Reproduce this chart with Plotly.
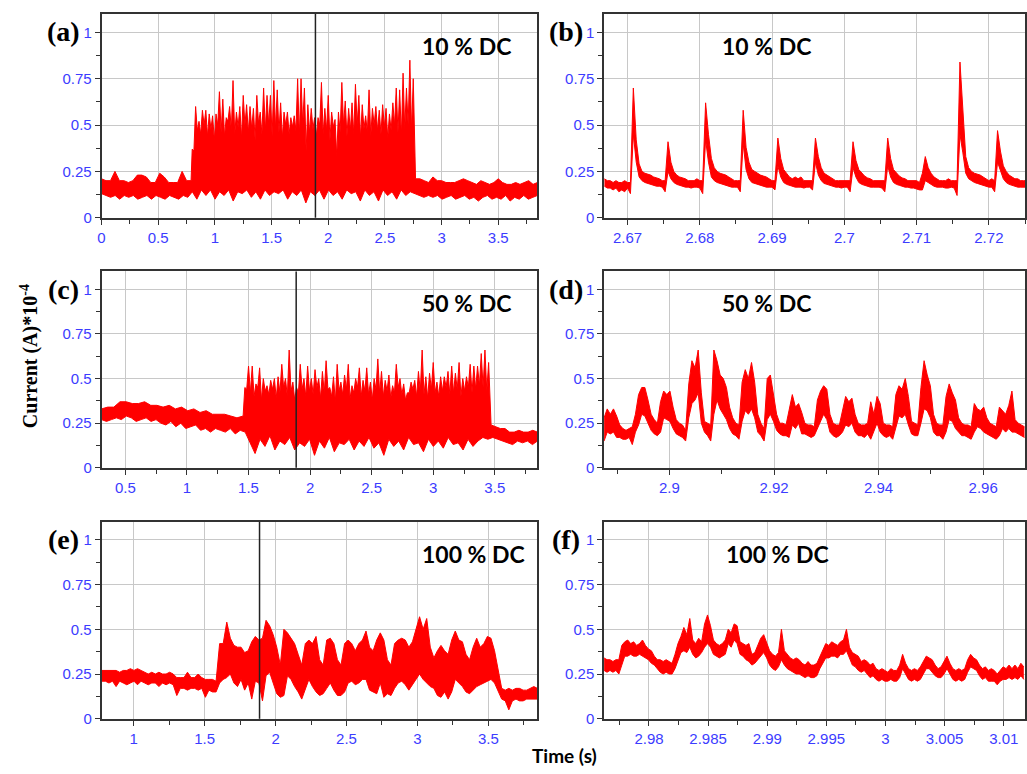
import numpy as np
import plotly.graph_objects as go

# ---------------- data ----------------
cursor_t = 1.887

# (a) 10 % DC, whole record: upper envelope in three stretches, lower envelope over the record
a_pre_span = [0.0, 0.79]
a_pre_hi = [0.21, 0.2, 0.2, 0.25, 0.2, 0.2, 0.19, 0.2, 0.23, 0.23, 0.22, 0.19, 0.19, 0.24, 0.22,
            0.19, 0.19, 0.19, 0.25, 0.2, 0.2]
a_act_span = [0.80, 2.75]
a_act_peaks = [0.37, 0.6, 0.52, 0.58, 0.58, 0.56, 0.55, 0.56, 0.68, 0.64,
               0.54, 0.6, 0.74, 0.57, 0.6, 0.66, 0.61, 0.6, 0.59, 0.66,
               0.57, 0.7, 0.66, 0.66, 0.74, 0.69, 0.62, 0.57, 0.57, 0.54,
               0.55, 0.75, 0.75, 0.7, 0.61, 0.59, 0.54, 0.54, 0.73, 0.59,
               0.66, 0.57, 0.53, 0.57, 0.73, 0.63, 0.59, 0.62, 0.72, 0.66,
               0.61, 0.55, 0.69, 0.59, 0.6, 0.58, 0.61, 0.59, 0.56, 0.62,
               0.7, 0.69, 0.78, 0.7, 0.85, 0.75]
a_act_valleys = [0.36, 0.47, 0.45, 0.5, 0.44, 0.48, 0.42, 0.5, 0.46, 0.44,
                 0.52, 0.47, 0.45, 0.49, 0.43, 0.5, 0.46, 0.48, 0.42, 0.51,
                 0.45, 0.47, 0.5, 0.44, 0.48, 0.46, 0.43, 0.5, 0.45, 0.49,
                 0.47, 0.44, 0.5, 0.36, 0.46, 0.48, 0.44, 0.5, 0.45, 0.47,
                 0.42, 0.49, 0.33, 0.46, 0.5, 0.44, 0.47, 0.45, 0.5, 0.43,
                 0.48, 0.46, 0.44, 0.5, 0.47, 0.45, 0.49, 0.43, 0.47, 0.5,
                 0.46, 0.44, 0.48, 0.5, 0.47]
a_post_span = [2.77, 3.845]
a_post_hi = [0.21, 0.21, 0.2, 0.19, 0.22, 0.2, 0.2, 0.19, 0.19, 0.19,
             0.2, 0.21, 0.2, 0.19, 0.18, 0.2, 0.19, 0.18, 0.19, 0.21,
             0.19, 0.18, 0.18, 0.19, 0.18, 0.19, 0.2, 0.18, 0.19]
a_lo_span = [0.0, 3.845]
a_lo = [0.13, 0.12, 0.11, 0.12, 0.1, 0.12, 0.11, 0.12, 0.1, 0.11, 0.12, 0.1, 0.12, 0.11, 0.1,
        0.12, 0.11, 0.1, 0.12, 0.11,
        0.14, 0.1, 0.15, 0.12, 0.15, 0.1, 0.14, 0.12, 0.15, 0.09, 0.14, 0.13, 0.15, 0.11, 0.14,
        0.1, 0.15, 0.12, 0.14, 0.13, 0.15, 0.1, 0.14, 0.12, 0.15, 0.08, 0.14, 0.12, 0.15, 0.1,
        0.15, 0.12, 0.14, 0.1, 0.15, 0.13, 0.14, 0.09, 0.15, 0.12, 0.14, 0.09, 0.15, 0.12, 0.14,
        0.1, 0.15, 0.12, 0.14,
        0.13, 0.12, 0.11, 0.12, 0.11, 0.12, 0.1, 0.11, 0.12, 0.1, 0.11, 0.12, 0.1, 0.11, 0.09,
        0.11, 0.12, 0.1, 0.11, 0.1, 0.12, 0.09, 0.11, 0.1, 0.12, 0.1, 0.11, 0.12]

# (b) 10 % DC, zoom
b_span = [2.6668, 2.7252]
b_hi = [0.21, 0.2, 0.2, 0.19, 0.2, 0.19, 0.19, 0.2, 0.19, 0.19,
        0.70, 0.42, 0.29, 0.25, 0.24, 0.235, 0.23, 0.22, 0.215, 0.21,
        0.2, 0.2, 0.41, 0.3, 0.25, 0.23, 0.22, 0.215, 0.21, 0.2,
        0.2, 0.2, 0.21, 0.2, 0.2, 0.62, 0.45, 0.32, 0.27, 0.25,
        0.24, 0.235, 0.23, 0.22, 0.21, 0.2, 0.2, 0.2, 0.58, 0.38,
        0.3, 0.26, 0.25, 0.24, 0.23, 0.225, 0.22, 0.21, 0.2, 0.2,
        0.43, 0.32, 0.26, 0.24, 0.22, 0.21, 0.22, 0.21, 0.22, 0.2,
        0.2, 0.2, 0.2, 0.43, 0.33, 0.27, 0.24, 0.23, 0.22, 0.21,
        0.2, 0.2, 0.2, 0.2, 0.2, 0.2, 0.41, 0.31, 0.26, 0.24,
        0.225, 0.215, 0.21, 0.2, 0.2, 0.2, 0.2, 0.2, 0.43, 0.32,
        0.26, 0.24, 0.225, 0.215, 0.21, 0.2, 0.2, 0.2, 0.2, 0.19,
        0.24, 0.33, 0.27, 0.24, 0.22, 0.21, 0.2, 0.2, 0.2, 0.21,
        0.2, 0.2, 0.2, 0.84, 0.55, 0.33, 0.27, 0.25, 0.24, 0.235,
        0.23, 0.22, 0.21, 0.2, 0.21, 0.2, 0.47, 0.36, 0.28, 0.25,
        0.23, 0.22, 0.21, 0.21, 0.2, 0.2, 0.2]
b_lo = [0.17, 0.16, 0.16, 0.15, 0.16, 0.14, 0.15, 0.14, 0.16, 0.13,
        0.45, 0.3, 0.22, 0.2, 0.19, 0.185, 0.18, 0.175, 0.17, 0.17,
        0.165, 0.14, 0.25, 0.21, 0.19, 0.18, 0.175, 0.17, 0.165, 0.165,
        0.16, 0.165, 0.165, 0.16, 0.13, 0.42, 0.3, 0.22, 0.2, 0.19,
        0.185, 0.18, 0.175, 0.17, 0.165, 0.165, 0.165, 0.14, 0.4, 0.26,
        0.21, 0.19, 0.185, 0.18, 0.175, 0.17, 0.165, 0.165, 0.165, 0.15,
        0.28, 0.22, 0.19, 0.18, 0.175, 0.17, 0.165, 0.165, 0.165, 0.16,
        0.165, 0.165, 0.15, 0.3, 0.23, 0.2, 0.185, 0.18, 0.175, 0.17,
        0.165, 0.165, 0.16, 0.165, 0.165, 0.14, 0.27, 0.22, 0.19, 0.18,
        0.175, 0.17, 0.165, 0.165, 0.165, 0.165, 0.16, 0.14, 0.28, 0.22,
        0.19, 0.18, 0.175, 0.17, 0.165, 0.165, 0.16, 0.16, 0.155, 0.15,
        0.15, 0.2, 0.19, 0.18, 0.17, 0.165, 0.165, 0.165, 0.16, 0.16,
        0.165, 0.16, 0.12, 0.45, 0.35, 0.24, 0.21, 0.2, 0.19, 0.185,
        0.18, 0.175, 0.17, 0.165, 0.165, 0.14, 0.3, 0.25, 0.21, 0.19,
        0.18, 0.175, 0.17, 0.165, 0.165, 0.165, 0.165]

# (c) 50 % DC, whole record
c_pre_span = [0.306, 1.456]
c_pre_hi = [0.33, 0.34, 0.34, 0.37, 0.37, 0.36, 0.36, 0.37, 0.35, 0.35, 0.34, 0.35,
            0.33, 0.34, 0.32, 0.33, 0.31, 0.32, 0.3, 0.3, 0.3, 0.29, 0.28, 0.29]
c_act_span = [1.47, 3.45]
c_act_peaks = [0.45, 0.57, 0.57, 0.47, 0.56, 0.5, 0.46, 0.49, 0.5, 0.51,
               0.58, 0.5, 0.66, 0.48, 0.45, 0.58, 0.5, 0.57, 0.5, 0.55,
               0.5, 0.54, 0.6, 0.45, 0.51, 0.58, 0.48, 0.52, 0.58, 0.46,
               0.5, 0.56, 0.49, 0.56, 0.48, 0.5, 0.61, 0.54, 0.49, 0.52,
               0.46, 0.58, 0.5, 0.47, 0.42, 0.48, 0.49, 0.54, 0.66, 0.51,
               0.53, 0.59, 0.48, 0.51, 0.51, 0.54, 0.57, 0.53, 0.59, 0.5,
               0.51, 0.58, 0.57, 0.57, 0.64, 0.66, 0.59]
c_act_valleys = [0.44, 0.42, 0.4, 0.45, 0.38, 0.43, 0.41, 0.44, 0.39, 0.42,
                 0.45, 0.4, 0.43, 0.38, 0.42, 0.44, 0.4, 0.43, 0.41, 0.45,
                 0.39, 0.42, 0.44, 0.4, 0.37, 0.43, 0.41, 0.44, 0.39, 0.42,
                 0.45, 0.4, 0.43, 0.41, 0.38, 0.44, 0.42, 0.4, 0.43, 0.39,
                 0.42, 0.45, 0.41, 0.38, 0.42, 0.44, 0.4, 0.43, 0.41, 0.39,
                 0.44, 0.42, 0.4, 0.43, 0.45, 0.41, 0.42, 0.44, 0.4, 0.43,
                 0.45, 0.42, 0.44, 0.46, 0.45, 0.43]
c_post_span = [3.47, 3.846]
c_post_hi = [0.24, 0.23, 0.22, 0.22, 0.2, 0.2, 0.21, 0.2, 0.2, 0.21, 0.2]
c_lo_span = [0.306, 3.846]
c_lo = [0.27, 0.26, 0.27, 0.28, 0.27, 0.29, 0.28, 0.26, 0.27, 0.28, 0.26, 0.27, 0.25, 0.24, 0.26,
        0.23, 0.25, 0.22, 0.23, 0.24, 0.21, 0.22, 0.2, 0.22, 0.21, 0.2, 0.22, 0.19, 0.21, 0.2,
        0.14, 0.08, 0.16, 0.12, 0.18, 0.1, 0.15, 0.13, 0.17, 0.1, 0.14, 0.12, 0.16, 0.07, 0.15,
        0.11, 0.17, 0.09, 0.14, 0.13, 0.16, 0.1, 0.15, 0.12, 0.17, 0.11, 0.14, 0.07, 0.16, 0.12,
        0.15, 0.1, 0.17, 0.13, 0.14, 0.09, 0.16, 0.12, 0.15, 0.11, 0.17, 0.13, 0.14, 0.1, 0.16,
        0.12, 0.15, 0.17, 0.16,
        0.17, 0.16, 0.15, 0.14, 0.13, 0.15, 0.14, 0.15, 0.13, 0.15]

# (d) 50 % DC, zoom
d_span = [2.8875, 2.9679]
d_hi = [0.28, 0.33, 0.3, 0.33, 0.29, 0.24, 0.22, 0.21, 0.22, 0.23,
        0.3, 0.41, 0.45, 0.45, 0.38, 0.3, 0.27, 0.25,
        0.37, 0.43, 0.41, 0.43, 0.34, 0.27, 0.25, 0.24, 0.21,
        0.47, 0.6, 0.56, 0.66, 0.42, 0.26, 0.25, 0.24,
        0.66, 0.6, 0.52, 0.5, 0.45, 0.34, 0.28, 0.25, 0.24,
        0.48, 0.55, 0.5, 0.59, 0.48, 0.3, 0.25, 0.22,
        0.5, 0.52, 0.42, 0.3, 0.25, 0.25, 0.24,
        0.33, 0.41, 0.34, 0.36, 0.31, 0.25, 0.24, 0.24, 0.23,
        0.38, 0.43, 0.46, 0.44, 0.3, 0.25, 0.24, 0.24,
        0.32, 0.4, 0.37, 0.39, 0.3, 0.25, 0.24, 0.24, 0.25,
        0.37, 0.3, 0.4, 0.36, 0.25, 0.24, 0.24, 0.23,
        0.41, 0.46, 0.44, 0.5, 0.4, 0.26, 0.25, 0.24,
        0.45, 0.6, 0.52, 0.46, 0.3, 0.25, 0.24, 0.24,
        0.4, 0.47, 0.42, 0.38, 0.28, 0.25, 0.24, 0.24, 0.23,
        0.36, 0.33, 0.32, 0.34, 0.28, 0.25, 0.24, 0.23,
        0.34, 0.32, 0.3, 0.35, 0.43, 0.27, 0.25, 0.24, 0.23]
d_lo = [0.15, 0.2, 0.19, 0.2, 0.17, 0.17, 0.16, 0.16, 0.17, 0.13,
        0.2, 0.24, 0.3, 0.29, 0.25, 0.21, 0.19, 0.18,
        0.2, 0.28, 0.27, 0.26, 0.22, 0.19, 0.18, 0.17, 0.15,
        0.28, 0.36, 0.38, 0.42, 0.25, 0.2, 0.18, 0.15,
        0.3, 0.38, 0.33, 0.3, 0.27, 0.22, 0.19, 0.18, 0.16,
        0.26, 0.32, 0.3, 0.33, 0.28, 0.2, 0.18, 0.15,
        0.27, 0.3, 0.26, 0.21, 0.19, 0.18, 0.18,
        0.17, 0.24, 0.22, 0.25, 0.19, 0.19, 0.18, 0.17, 0.18,
        0.22, 0.27, 0.3, 0.27, 0.2, 0.18, 0.17, 0.18,
        0.2, 0.24, 0.23, 0.25, 0.2, 0.18, 0.18, 0.17, 0.19,
        0.16, 0.2, 0.25, 0.2, 0.18, 0.17, 0.18, 0.16,
        0.22, 0.29, 0.28, 0.3, 0.24, 0.19, 0.18, 0.18,
        0.25, 0.33, 0.32, 0.28, 0.2, 0.18, 0.18, 0.16,
        0.2, 0.27, 0.26, 0.22, 0.2, 0.18, 0.18, 0.17, 0.16,
        0.2, 0.23, 0.22, 0.2, 0.19, 0.18, 0.17, 0.16,
        0.18, 0.22, 0.2, 0.22, 0.2, 0.2, 0.19, 0.18, 0.17]

# (e) 100 % DC, whole record
e_span = [0.775, 3.846]
e_hi = [0.27, 0.27, 0.27, 0.27, 0.27, 0.26, 0.27, 0.27, 0.28, 0.27,
        0.28, 0.27, 0.26, 0.25, 0.26, 0.25, 0.26, 0.25, 0.25, 0.26,
        0.25, 0.23, 0.23, 0.23, 0.26, 0.23, 0.23, 0.25, 0.23, 0.22,
        0.22, 0.22, 0.21,
        0.42, 0.42, 0.54, 0.45, 0.41, 0.4, 0.4, 0.37, 0.38, 0.43,
        0.46, 0.44, 0.45, 0.55, 0.52, 0.47, 0.4, 0.3, 0.5, 0.48,
        0.45, 0.42, 0.36, 0.3, 0.42, 0.44, 0.42, 0.46, 0.33, 0.3,
        0.44, 0.45, 0.42, 0.33, 0.3, 0.42, 0.44, 0.42, 0.38, 0.42,
        0.44, 0.49, 0.4, 0.38, 0.44, 0.48, 0.44, 0.33, 0.3, 0.42,
        0.44, 0.45, 0.44, 0.4, 0.43, 0.5, 0.57, 0.5, 0.56, 0.4,
        0.34, 0.38, 0.41, 0.38, 0.36, 0.44, 0.49, 0.44, 0.43, 0.36,
        0.33, 0.4, 0.45, 0.4, 0.42, 0.46, 0.45, 0.38, 0.28,
        0.17, 0.16, 0.17, 0.16, 0.17, 0.17, 0.16, 0.16, 0.17, 0.18, 0.17]
e_lo = [0.21, 0.21, 0.2, 0.21, 0.18, 0.21, 0.2, 0.19, 0.2, 0.21,
        0.19, 0.21, 0.2, 0.19, 0.2, 0.2, 0.18, 0.2, 0.19, 0.2,
        0.19, 0.13, 0.17, 0.17, 0.16, 0.17, 0.17, 0.16, 0.17, 0.12,
        0.16, 0.15, 0.15,
        0.2, 0.22, 0.23, 0.25, 0.2, 0.18, 0.22, 0.16, 0.2, 0.11,
        0.21, 0.2, 0.1, 0.24, 0.26, 0.2, 0.14, 0.12, 0.13, 0.24,
        0.22, 0.18, 0.15, 0.11, 0.17, 0.22, 0.18, 0.15, 0.13, 0.14,
        0.17, 0.2, 0.16, 0.13, 0.13, 0.15, 0.2, 0.21, 0.19, 0.2,
        0.22, 0.22, 0.16, 0.15, 0.14, 0.2, 0.12, 0.14, 0.13, 0.17,
        0.2, 0.21, 0.19, 0.16, 0.19, 0.22, 0.25, 0.22, 0.2, 0.18,
        0.17, 0.13, 0.12, 0.15, 0.11, 0.15, 0.22, 0.2, 0.18, 0.15,
        0.14, 0.16, 0.18, 0.19, 0.2, 0.21, 0.22, 0.2, 0.15,
        0.11, 0.1, 0.05, 0.1, 0.11, 0.1, 0.1, 0.11, 0.11, 0.11, 0.11]

# (f) 100 % DC, zoom
f_span = [2.9762, 3.0117]
f_hi = [0.34, 0.33, 0.33, 0.32, 0.33, 0.33, 0.41, 0.43,
        0.44, 0.42, 0.43, 0.41, 0.42, 0.44, 0.41, 0.39, 0.38, 0.35, 0.33,
        0.33, 0.32, 0.33, 0.32, 0.31, 0.36, 0.42, 0.46, 0.51, 0.47, 0.56,
        0.44, 0.42, 0.45, 0.43, 0.53, 0.58, 0.52, 0.44, 0.42, 0.41, 0.42, 0.44,
        0.5, 0.48, 0.53, 0.52, 0.43, 0.42, 0.41, 0.42, 0.36, 0.37, 0.41,
        0.45, 0.47, 0.42, 0.38, 0.36, 0.35, 0.37, 0.5,
        0.38, 0.36, 0.34, 0.33, 0.34, 0.33, 0.31, 0.3, 0.32, 0.3, 0.3, 0.31,
        0.35, 0.38, 0.42, 0.41, 0.43, 0.42, 0.41, 0.43, 0.44, 0.5,
        0.4, 0.37, 0.36, 0.35, 0.32, 0.33, 0.32, 0.3, 0.31, 0.28,
        0.27, 0.28, 0.27, 0.26, 0.28, 0.27, 0.27, 0.3, 0.36,
        0.31, 0.28, 0.27, 0.28, 0.27, 0.29, 0.32, 0.35, 0.34, 0.33,
        0.3, 0.28, 0.29, 0.32, 0.35, 0.31, 0.28, 0.27, 0.28, 0.27, 0.28,
        0.33, 0.36, 0.34, 0.33, 0.3, 0.28, 0.29, 0.27, 0.28, 0.27, 0.25,
        0.27, 0.29, 0.28, 0.3, 0.28, 0.3, 0.28, 0.31, 0.29]
f_lo = [0.27, 0.26, 0.27, 0.26, 0.27, 0.25, 0.3, 0.35,
        0.35, 0.36, 0.35, 0.35, 0.36, 0.35, 0.34, 0.33, 0.31, 0.3, 0.28,
        0.26, 0.25, 0.26, 0.25, 0.25, 0.28, 0.33, 0.37, 0.38, 0.37, 0.4,
        0.36, 0.34, 0.35, 0.37, 0.4, 0.42, 0.4, 0.36, 0.35, 0.34, 0.35, 0.36,
        0.42, 0.4, 0.44, 0.42, 0.36, 0.35, 0.33, 0.32, 0.3, 0.31, 0.33,
        0.35, 0.37, 0.34, 0.3, 0.28, 0.27, 0.29, 0.33,
        0.3, 0.28, 0.27, 0.26, 0.25, 0.25, 0.24, 0.23, 0.24, 0.23, 0.23, 0.24,
        0.28, 0.31, 0.34, 0.34, 0.35, 0.35, 0.34, 0.36, 0.36, 0.38,
        0.34, 0.3, 0.29, 0.27, 0.26, 0.27, 0.25, 0.23, 0.24, 0.22,
        0.21, 0.22, 0.21, 0.21, 0.22, 0.21, 0.21, 0.23, 0.28,
        0.25, 0.22, 0.21, 0.22, 0.21, 0.22, 0.25, 0.28, 0.28, 0.26,
        0.24, 0.23, 0.23, 0.25, 0.28, 0.25, 0.22, 0.21, 0.22, 0.21, 0.22,
        0.26, 0.29, 0.28, 0.27, 0.24, 0.22, 0.23, 0.21, 0.21, 0.21, 0.19,
        0.21, 0.22, 0.22, 0.23, 0.22, 0.23, 0.22, 0.24, 0.22]

panel_letters = ["(a)", "(b)", "(c)", "(d)", "(e)", "(f)"]
dc_labels = ["10 % DC", "10 % DC", "50 % DC", "50 % DC", "100 % DC", "100 % DC"]
x_ranges = [[0.0, 3.845], [2.66675, 2.725], [0.306, 3.846], [2.8875, 2.968],
            [0.773, 3.846], [2.9762, 3.0118]]
x_dticks = [0.5, 0.01, 0.5, 0.02, 0.5, 0.005]
x_tick0 = [0.0, 2.67, 0.5, 2.9, 1.0, 2.98]
y_range = [0, 1.1]
y_title = "Current (A)*10<sup>-4</sup>"
x_title = "Time (s)"


# ---------------- helpers ----------------
def span_t(span, vals):
    return np.linspace(span[0], span[1], len(vals))


def interleave(peaks, valleys):
    out = []
    for i, p in enumerate(peaks):
        out.append(p)
        if i < len(valleys):
            out.append(valleys[i])
    return out


a_act_hi = interleave(a_act_peaks, a_act_valleys)
c_act_hi = interleave(c_act_peaks, c_act_valleys)

panels = [
    dict(hi=[(a_pre_span, a_pre_hi), (a_act_span, a_act_hi), (a_post_span, a_post_hi)],
         lo=(a_lo_span, a_lo), cursor=True),
    dict(hi=[(b_span, b_hi)], lo=(b_span, b_lo), cursor=False),
    dict(hi=[(c_pre_span, c_pre_hi), (c_act_span, c_act_hi), (c_post_span, c_post_hi)],
         lo=(c_lo_span, c_lo), cursor=True),
    dict(hi=[(d_span, d_hi)], lo=(d_span, d_lo), cursor=False),
    dict(hi=[(e_span, e_hi)], lo=(e_span, e_lo), cursor=True),
    dict(hi=[(f_span, f_hi)], lo=(f_span, f_lo), cursor=False),
]

# ---------------- layout geometry (pixels of a 1027x774 page) ----------------
W, H = 1027, 774
col_px = [(98, 536), (603, 1026)]
row_px = [(14, 220), (274.3, 472.7), (527.3, 726.3)]

RED = "#ff0000"
TICK_BLUE = "#3c3cff"
AX = "#333333"

fig = go.Figure()
layout = dict(width=W, height=H, margin=dict(l=0, r=0, t=0, b=0),
              paper_bgcolor="white", plot_bgcolor="white", showlegend=False)
shapes = []
annotations = []

for i, p in enumerate(panels):
    n = i + 1
    xa = "x" if n == 1 else f"x{n}"
    ya = "y" if n == 1 else f"y{n}"
    r, c = divmod(i, 2)
    x0, x1 = col_px[c]
    y0, y1 = row_px[r]

    lt = span_t(p["lo"][0], p["lo"][1])
    fig.add_trace(go.Scatter(x=lt, y=p["lo"][1], mode="lines",
                             line=dict(color=RED, width=1), hoverinfo="skip",
                             xaxis=xa, yaxis=ya))
    hx, hy = [], []
    for sp, vals in p["hi"]:
        hx.extend(span_t(sp, vals))
        hy.extend(vals)
    fig.add_trace(go.Scatter(x=hx, y=hy, mode="lines", fill="tonexty",
                             fillcolor=RED, line=dict(color=RED, width=1),
                             hoverinfo="skip", xaxis=xa, yaxis=ya))

    tickfont = dict(family="Liberation Sans, Arial, sans-serif", size=15, color=TICK_BLUE)
    common = dict(showgrid=True, gridcolor="#c8c8c8", gridwidth=1,
                  showline=True, linecolor=AX, linewidth=1.6, mirror=True,
                  ticks="outside", ticklen=5, tickwidth=1.3, tickcolor=AX,
                  tickfont=tickfont, zeroline=False, fixedrange=True)
    layout["xaxis" if n == 1 else f"xaxis{n}"] = dict(
        domain=[x0 / W, x1 / W], anchor=ya, range=x_ranges[i],
        tick0=x_tick0[i], dtick=x_dticks[i],
        minor=dict(ticks="outside", ticklen=4, tickcolor=AX, tickwidth=1.2,
                   dtick=x_dticks[i] / 2, tick0=x_tick0[i], showgrid=False),
        **common)
    layout["yaxis" if n == 1 else f"yaxis{n}"] = dict(
        domain=[1 - y1 / H, 1 - y0 / H], anchor=xa, range=y_range,
        tick0=0, dtick=0.25,
        minor=dict(ticks="outside", ticklen=4, tickcolor=AX, tickwidth=1.2,
                   dtick=0.125, tick0=0, showgrid=False),
        **common)

    if p["cursor"]:
        shapes.append(dict(type="line", xref=xa, yref=f"{ya} domain",
                           x0=cursor_t, x1=cursor_t, y0=0, y1=1,
                           line=dict(color="#222222", width=1.5)))

    # panel letter
    annotations.append(dict(text=f"<b>{panel_letters[i]}</b>", xref="paper", yref="paper",
                            x=(x0 - 38) / W, y=1 - (y0 + 18) / H, xanchor="center",
                            yanchor="middle", showarrow=False,
                            font=dict(family="Liberation Serif, Times New Roman, serif",
                                      size=28, color="black")))
    # duty-cycle label
    if c == 0:
        lx = 465 if r < 2 else 472
    else:
        lx = 766 if r < 2 else 777
    annotations.append(dict(text=f"<b>{dc_labels[i]}</b>", xref="paper", yref="paper",
                            x=lx / W, y=1 - (y0 + 32) / H, xanchor="center",
                            yanchor="middle", showarrow=False,
                            font=dict(family="Lato, Open Sans, sans-serif", size=23,
                                      color="black")))

annotations.append(dict(text=f"<b>{y_title}</b>", xref="paper", yref="paper",
                        x=25 / W, y=1 - 360 / H, textangle=-90, xanchor="center",
                        yanchor="middle", showarrow=False,
                        font=dict(family="Liberation Serif, Times New Roman, serif",
                                  size=20, color="black")))
annotations.append(dict(text=f"<b>{x_title}</b>", xref="paper", yref="paper",
                        x=563 / W, y=1 - 763 / H, xanchor="center", yanchor="middle",
                        showarrow=False,
                        font=dict(family="Lato, Open Sans, sans-serif", size=19,
                                  color="black")))

layout["shapes"] = shapes
layout["annotations"] = annotations
fig.update_layout(**layout)
fig.write_html("out.html", config={"displayModeBar": False},
               post_script="document.body.style.margin='0';document.body.style.padding='0';")
